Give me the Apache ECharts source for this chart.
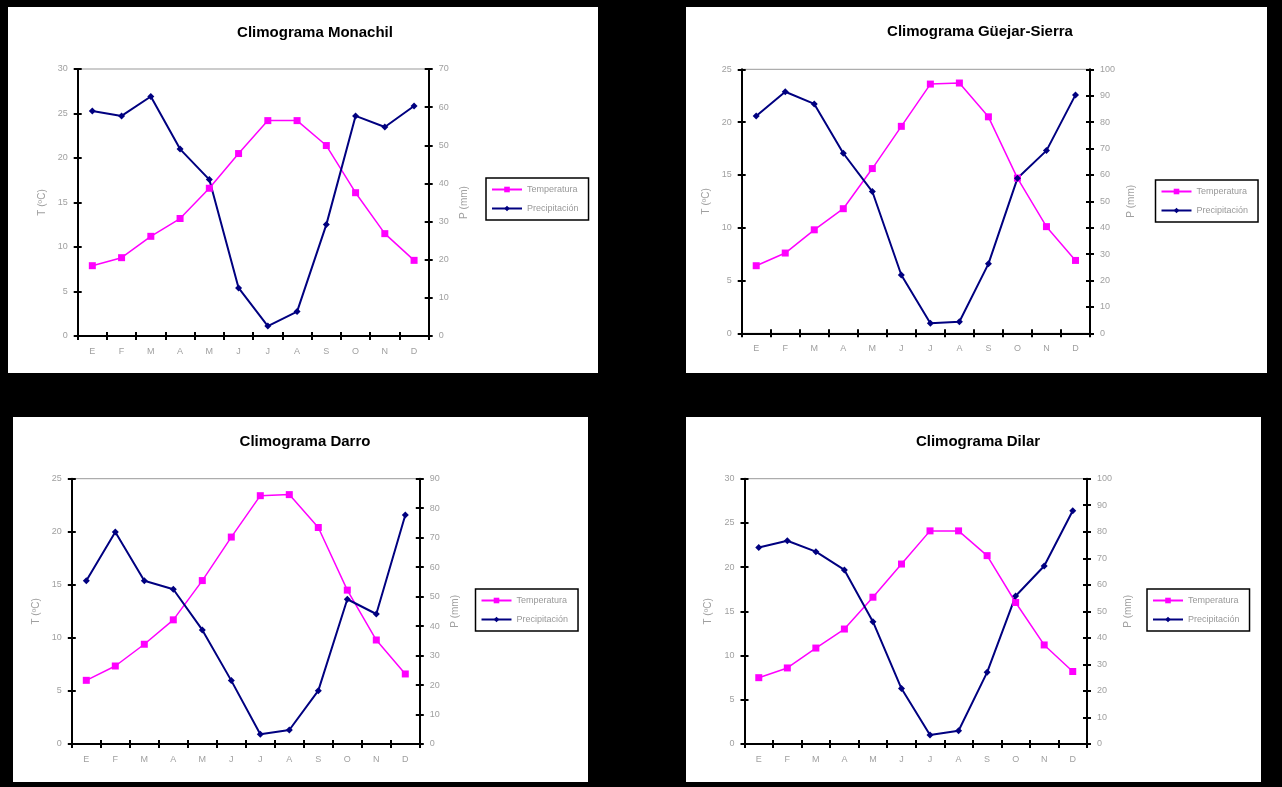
<!DOCTYPE html>
<html><head><meta charset="utf-8">
<script src="https://cdn.jsdelivr.net/npm/echarts@6/dist/echarts.min.js"></script>
<style>
html,body{margin:0;padding:0;background:#000;width:1282px;height:787px;overflow:hidden}
.p{position:absolute;background:#fff}
</style></head><body>
<div id="c0" class="p" style="left:8px;top:7px;width:590px;height:366px"></div>
<div id="c1" class="p" style="left:686px;top:7px;width:581px;height:366px"></div>
<div id="c2" class="p" style="left:13px;top:417px;width:575px;height:365px"></div>
<div id="c3" class="p" style="left:686px;top:417px;width:575px;height:365px"></div>
<script>
// ---- data ----
const months = ['E','F','M','A','M','J','J','A','S','O','N','D'];
const titles = ['Climograma Monachil','Climograma Güejar-Sierra','Climograma Darro','Climograma Dilar'];
const seriesNames = ['Temperatura','Precipitación'];
const axisNames = ['T (ºC)','P (mm)'];

const tempMonachil = [7.9, 8.8, 11.2, 13.2, 16.6, 20.5, 24.2, 24.2, 21.4, 16.1, 11.5, 8.5];
const precMonachil = [59.0, 57.7, 62.8, 49.0, 41.0, 12.6, 2.6, 6.4, 29.2, 57.7, 54.8, 60.3];

const tempGuejar = [6.4, 7.6, 9.8, 11.8, 15.6, 19.6, 23.6, 23.7, 20.5, 14.7, 10.1, 6.9];
const precGuejar = [82.3, 91.5, 86.9, 68.2, 53.7, 22.1, 3.8, 4.4, 26.3, 58.7, 69.2, 90.3];

const tempDarro = [6.0, 7.35, 9.4, 11.7, 15.4, 19.5, 23.4, 23.5, 20.4, 14.5, 9.8, 6.6];
const precDarro = [55.4, 71.9, 55.4, 52.5, 38.7, 21.5, 3.3, 4.75, 18.1, 49.1, 44.1, 77.7];

const tempDilar = [7.5, 8.6, 10.85, 13.0, 16.6, 20.35, 24.1, 24.1, 21.3, 16.0, 11.2, 8.2];
const precDilar = [74.1, 76.6, 72.5, 65.6, 46.1, 20.9, 3.4, 5.0, 27.0, 55.8, 67.1, 87.9];

const tempAxisMax = [30, 25, 25, 30];
const precAxisMax = [70, 100, 90, 100];
const tempAxisStep = 5;
const precAxisStep = 10;

// ---- layout (positions / sizes, px inside each panel) ----
const layouts = [
  {grid:{left:69.7, top:62, width:351, height:267}, titleX:302, titleY:13, legend:{left:478, top:171}},
  {grid:{left:55.7, top:62.3, width:348.3, height:264}, titleX:289, titleY:12, legend:{left:469.5, top:173}},
  {grid:{left:58.8, top:61.7, width:348, height:265.3}, titleX:287, titleY:12, legend:{left:462.5, top:172}},
  {grid:{left:58.5, top:61.7, width:342.5, height:265.3}, titleX:287, titleY:12, legend:{left:461, top:172}}
];

const temps = [tempMonachil, tempGuejar, tempDarro, tempDilar];
const precs = [precMonachil, precGuejar, precDarro, precDilar];

const FONT = '"Liberation Sans", Arial, sans-serif';
const LABEL = '#a0a0a0';
const PINK = '#ff00ff';
const NAVY = '#000080';

function yAx(pos, max, step, withLabels, inside, name, gap) {
  return {
    type:'value', position:pos, min:0, max:max, interval:step,
    name: withLabels ? name : '', nameLocation:'middle', nameGap:gap, nameRotate:90,
    nameTextStyle:{color:LABEL, fontSize:10, fontFamily:FONT},
    axisLine:{show:withLabels, lineStyle:{color:'#000', width:2}},
    axisTick:{show:true, inside:inside, length:4, lineStyle:{color:'#000', width:2}},
    axisLabel:{show:withLabels, color:LABEL, fontSize:9, fontFamily:FONT, margin:10},
    splitLine:{show:false}
  };
}
function xAx(withLabels, inside) {
  return {
    type:'category', data:months, position:'bottom', boundaryGap:true,
    axisLine:{show:withLabels, onZero:false, lineStyle:{color:'#000', width:2}},
    axisTick:{show:true, inside:inside, length:4, lineStyle:{color:'#000', width:2}},
    axisLabel:{show:withLabels, color:LABEL, fontSize:9, fontFamily:FONT, margin:11, interval:0},
    splitLine:{show:false}
  };
}

for (let i = 0; i < 4; i++) {
  const L = layouts[i];
  const chart = echarts.init(document.getElementById('c' + i), null, {renderer:'canvas'});
  chart.setOption({
    animation:false,
    backgroundColor:'#fff',
    title:{text:titles[i], left:L.titleX, top:L.titleY, textAlign:'center',
      textStyle:{fontSize:15, fontWeight:'bold', color:'#000', fontFamily:FONT}},
    grid:Object.assign({show:true, borderColor:'#999', borderWidth:1, backgroundColor:'transparent'}, L.grid),
    legend:{data:seriesNames, orient:'vertical', left:L.legend.left, top:L.legend.top,
      borderColor:'#000', borderWidth:1.5, backgroundColor:'#fff', padding:[7,10,7,5],
      itemGap:10, itemWidth:30, itemHeight:7,
      textStyle:{fontSize:9, color:'#999', fontFamily:FONT}},
    xAxis:[xAx(true,false), xAx(false,true)],
    yAxis:[
      yAx('left', tempAxisMax[i], tempAxisStep, true, false, axisNames[0], 30),
      yAx('right', precAxisMax[i], precAxisStep, true, false, axisNames[1], 28),
      yAx('left', tempAxisMax[i], tempAxisStep, false, true, '', 0),
      yAx('right', precAxisMax[i], precAxisStep, false, true, '', 0)
    ],
    series:[
      {name:seriesNames[0], type:'line', xAxisIndex:0, yAxisIndex:0, data:temps[i],
        symbol:'rect', symbolSize:7, lineStyle:{color:PINK, width:1.5}, itemStyle:{color:PINK}},
      {name:seriesNames[1], type:'line', xAxisIndex:0, yAxisIndex:1, data:precs[i],
        symbol:'diamond', symbolSize:7, lineStyle:{color:NAVY, width:2}, itemStyle:{color:NAVY}}
    ]
  });
}
</script>
</body></html>
